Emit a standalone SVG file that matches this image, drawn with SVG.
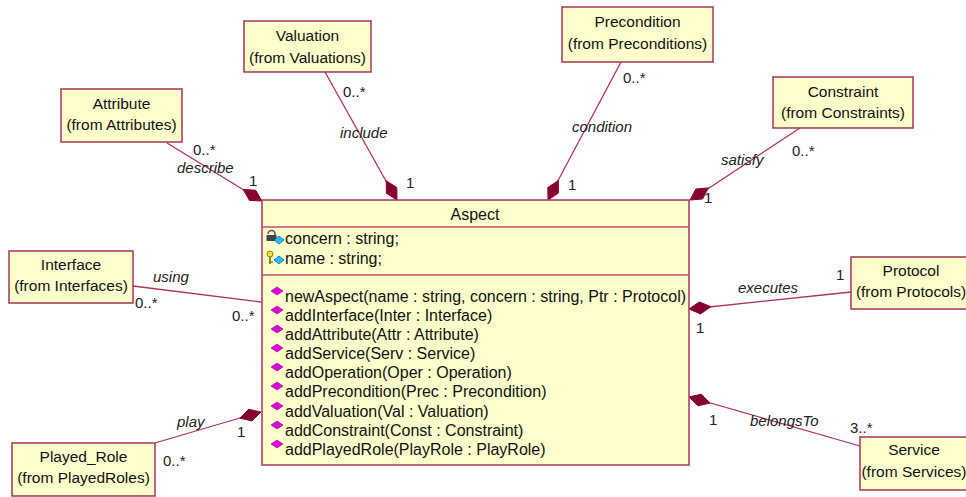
<svg xmlns="http://www.w3.org/2000/svg" width="966" height="497" viewBox="0 0 966 497">
<style>
.box{fill:#FFFFCC;stroke:#A8345A;stroke-width:1.5}
.sep{stroke:#C0506A;stroke-width:1.5}
.t{font-family:"Liberation Sans",Arial,sans-serif;font-size:15.5px;fill:#111}
.c{text-anchor:middle}
.op{font-family:"Liberation Sans",Arial,sans-serif;font-size:16px;fill:#111}
.lbl{font-family:"Liberation Sans",Arial,sans-serif;font-size:15px;fill:#222}
.it{font-style:italic}
.ln{stroke:#B03060;stroke-width:1.3;fill:none}
.dia{fill:#850030;stroke:#850030;stroke-width:1}
.mg{fill:#E000E0;stroke:#800080;stroke-width:0.6}
</style>
<rect width="966" height="497" fill="#ffffff"/>
<g id="connectors">
<line class="ln" x1="167" y1="143" x2="252" y2="195"/>
<polygon class="dia" points="262,201 249.5,200.4 243.2,189.5 255.7,190.2"/>
<line class="ln" x1="325" y1="72" x2="391" y2="190"/>
<polygon class="dia" points="397,200 386.4,193.3 386.2,180.8 396.8,187.5"/>
<line class="ln" x1="621" y1="62" x2="553" y2="190"/>
<polygon class="dia" points="548,200 547.8,187.5 558.3,180.6 558.4,193.1"/>
<line class="ln" x1="800" y1="128" x2="700" y2="194"/>
<polygon class="dia" points="690,200 695.9,189 708.4,187.9 702.5,199"/>
<line class="ln" x1="133" y1="286" x2="261" y2="302"/>
<line class="ln" x1="851" y1="292" x2="700" y2="308"/>
<polygon class="dia" points="689,309 699.3,301.9 710.9,306.7 700.5,313.9"/>
<line class="ln" x1="860" y1="446" x2="700" y2="400"/>
<polygon class="dia" points="689,397 701.3,394.2 710.1,403.1 698,405.8"/>
<line class="ln" x1="155" y1="443" x2="250" y2="415"/>
<polygon class="dia" points="261,412 252.1,420.9 239.9,418.2 248.7,409.3"/>
<text class="lbl" x="193" y="155">0..*</text>
<text class="lbl it" x="177" y="173">describe</text>
<text class="lbl" x="249" y="186">1</text>
<text class="lbl" x="343" y="97">0..*</text>
<text class="lbl it" x="340" y="138">include</text>
<text class="lbl" x="406" y="188">1</text>
<text class="lbl" x="623" y="83">0..*</text>
<text class="lbl it" x="572" y="132">condition</text>
<text class="lbl" x="568" y="190">1</text>
<text class="lbl it" x="721" y="165">satisfy</text>
<text class="lbl" x="792" y="156">0..*</text>
<text class="lbl" x="704" y="203">1</text>
<text class="lbl it" x="153" y="282">using</text>
<text class="lbl" x="135" y="308">0..*</text>
<text class="lbl" x="232" y="321">0..*</text>
<text class="lbl it" x="738" y="293">executes</text>
<text class="lbl" x="836" y="280">1</text>
<text class="lbl" x="696" y="333">1</text>
<text class="lbl" x="709" y="425">1</text>
<text class="lbl it" x="750" y="426">belongsTo</text>
<text class="lbl" x="850" y="433">3..*</text>
<text class="lbl it" x="177" y="427">play</text>
<text class="lbl" x="237" y="437">1</text>
<text class="lbl" x="163" y="466">0..*</text>
</g>
<g id="aspect">
<rect class="box" x="262" y="200" width="427" height="265" stroke-width="2"/>
<line class="sep" x1="262" y1="227" x2="689" y2="227"/>
<line class="sep" x1="262" y1="275" x2="689" y2="275"/>
<text class="op c" x="475" y="220">Aspect</text>
<g>
<path d="M268,234 a3.5,3.5 0 0 1 7,0 v2" fill="none" stroke="#555" stroke-width="1.5"/>
<rect x="266.5" y="235" width="10" height="6" fill="#444"/>
<polygon points="279,236 284,240 279,244 274,240" fill="#20C0FF" stroke="#0050A0" stroke-width="0.7"/>
</g>
<text class="op" x="285" y="244">concern : string;</text>
<g>
<circle cx="270" cy="254" r="3" fill="#F0E040" stroke="#806000" stroke-width="0.8"/>
<line x1="270" y1="257" x2="270" y2="264" stroke="#806000" stroke-width="1.6"/>
<line x1="270" y1="262" x2="273" y2="262" stroke="#806000" stroke-width="1.2"/>
<polygon points="279,256 284,260 279,264 274,260" fill="#20C0FF" stroke="#0050A0" stroke-width="0.7"/>
</g>
<text class="op" x="285" y="264">name : string;</text>
<g id="opicons">
<polygon class="mg" points="277,287 283,291 277,295 271,291"/>
<polygon class="mg" points="277,306 283,310 277,314 271,310"/>
<polygon class="mg" points="277,325 283,329 277,333 271,329"/>
<polygon class="mg" points="277,344 283,348 277,352 271,348"/>
<polygon class="mg" points="277,363 283,367 277,371 271,367"/>
<polygon class="mg" points="277,382 283,386 277,390 271,386"/>
<polygon class="mg" points="277,402 283,406 277,410 271,406"/>
<polygon class="mg" points="277,421 283,425 277,429 271,425"/>
<polygon class="mg" points="277,440 283,444 277,448 271,444"/>
</g>
<text class="op" x="285" y="302">newAspect(name : string, concern : string, Ptr : Protocol)</text>
<text class="op" x="285" y="321">addInterface(Inter : Interface)</text>
<text class="op" x="285" y="340">addAttribute(Attr : Attribute)</text>
<text class="op" x="285" y="359">addService(Serv : Service)</text>
<text class="op" x="285" y="378">addOperation(Oper : Operation)</text>
<text class="op" x="285" y="397">addPrecondition(Prec : Precondition)</text>
<text class="op" x="285" y="417">addValuation(Val : Valuation)</text>
<text class="op" x="285" y="436">addConstraint(Const : Constraint)</text>
<text class="op" x="285" y="455">addPlayedRole(PlayRole : PlayRole)</text>
</g>
<g id="attribute">
<rect class="box" x="61" y="89" width="121" height="53"/>
<text class="t c" x="121.5" y="109">Attribute</text>
<text class="t c" x="121.5" y="130">(from Attributes)</text>
</g>
<g id="valuation">
<rect class="box" x="244" y="21" width="127" height="51"/>
<text class="t c" x="307.5" y="41">Valuation</text>
<text class="t c" x="307.5" y="63">(from Valuations)</text>
</g>
<g id="precondition">
<rect class="box" x="562" y="7" width="151" height="55"/>
<text class="t c" x="637.5" y="27">Precondition</text>
<text class="t c" x="637.5" y="49">(from Preconditions)</text>
</g>
<g id="constraint">
<rect class="box" x="773" y="77" width="140" height="51"/>
<text class="t c" x="843" y="97">Constraint</text>
<text class="t c" x="843" y="118">(from Constraints)</text>
</g>
<g id="interface">
<rect class="box" x="9" y="251" width="124" height="52"/>
<text class="t c" x="71" y="270">Interface</text>
<text class="t c" x="71" y="291">(from Interfaces)</text>
</g>
<g id="protocol">
<rect class="box" x="851" y="257" width="120" height="52"/>
<text class="t c" x="911" y="276">Protocol</text>
<text class="t c" x="911" y="297">(from Protocols)</text>
</g>
<g id="playedrole">
<rect class="box" x="12" y="443" width="143" height="53"/>
<text class="t c" x="83.5" y="462">Played_Role</text>
<text class="t c" x="83.5" y="483">(from PlayedRoles)</text>
</g>
<g id="service">
<rect class="box" x="860" y="437" width="112" height="53"/>
<text class="t c" x="914" y="455">Service</text>
<text class="t c" x="914" y="477">(from Services)</text>
</g>
</svg>
